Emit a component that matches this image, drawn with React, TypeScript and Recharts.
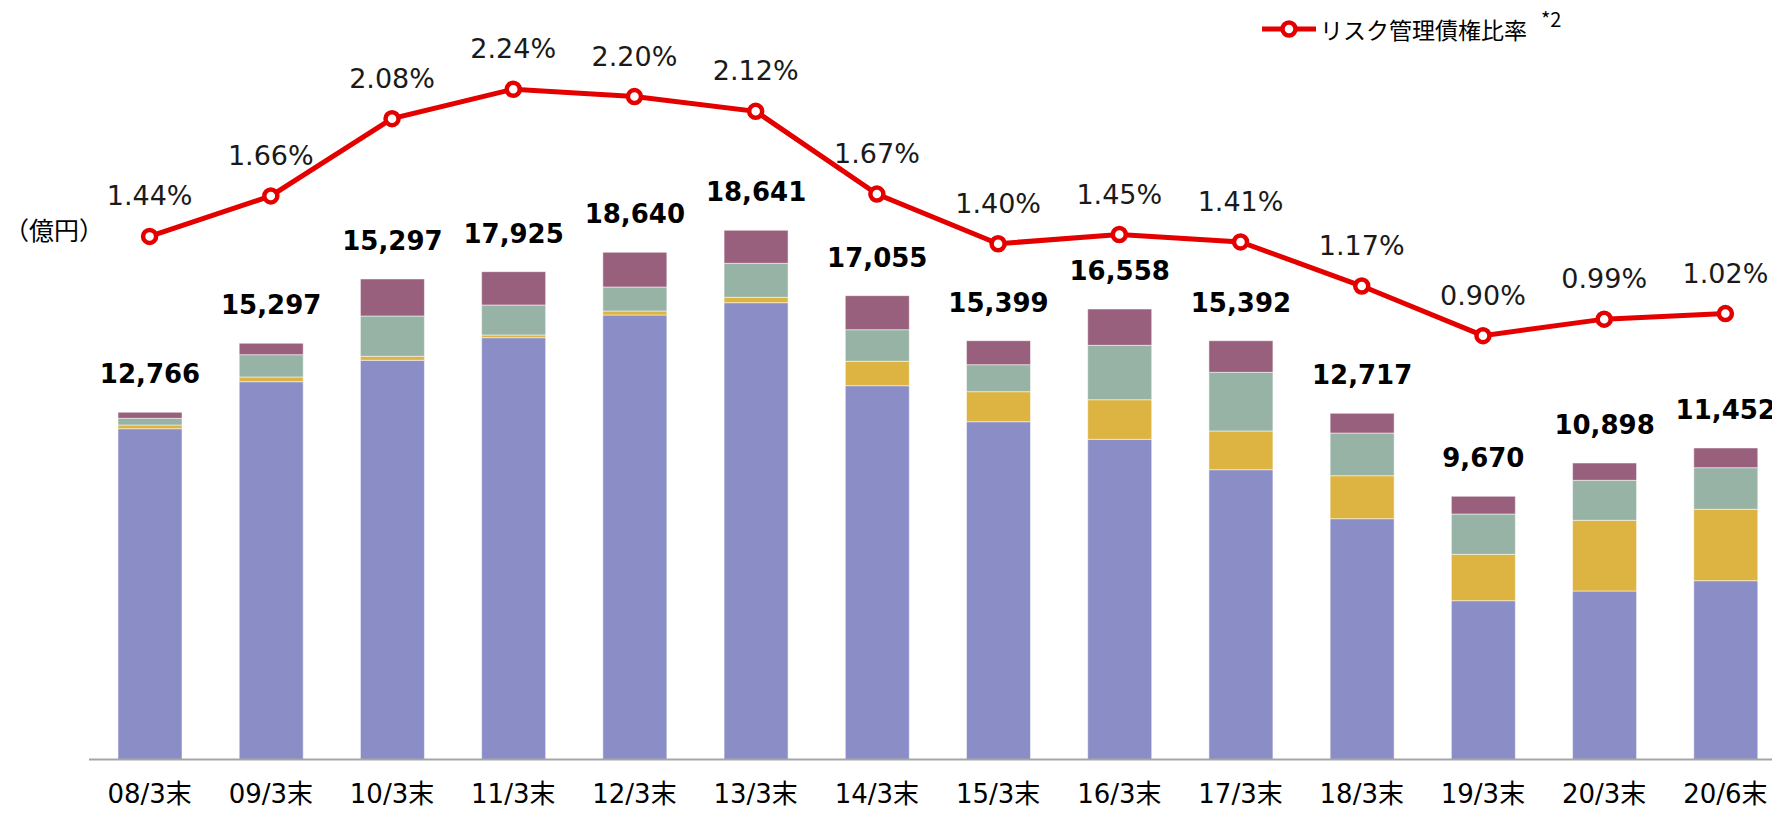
import React from 'react';
import { ComposedChart, Bar, Line, XAxis, YAxis, LabelList } from 'recharts';

// 期末（億円）
const periods = ['08/3末', '09/3末', '10/3末', '11/3末', '12/3末', '13/3末', '14/3末', '15/3末', '16/3末', '17/3末', '18/3末', '19/3末', '20/3末', '20/6末'];

// 積み上げ内訳（下から順）
const seriesA = [12157, 13884, 14671, 15501, 16335, 16787, 13737, 12414, 11767, 10650, 8849, 5836, 6192, 6571];
const seriesB = [136, 173, 147, 99, 147, 198, 897, 1103, 1455, 1422, 1580, 1705, 2598, 2624];
const seriesC = [246, 820, 1481, 1103, 882, 1250, 1161, 992, 1999, 2157, 1569, 1481, 1470, 1529];
const seriesD = [221, 419, 1360, 1224, 1275, 1213, 1250, 882, 1334, 1161, 724, 650, 636, 724];

// 合計ラベル（資料の表記どおり）
const totalLabels = [12766, 15297, 15297, 17925, 18640, 18641, 17055, 15399, 16558, 15392, 12717, 9670, 10898, 11452];

// リスク管理債権比率（%）
const riskRatio = [1.44, 1.66, 2.08, 2.24, 2.2, 2.12, 1.67, 1.4, 1.45, 1.41, 1.17, 0.9, 0.99, 1.02];

const COLORS = {
  a: '#8b8ec6',
  b: '#ddb441',
  c: '#97b3a5',
  d: '#98607c',
  line: '#e50000',
};

const NUM_FONT = '"DejaVu Sans", "Noto Sans CJK JP", sans-serif';
const JP_FONT = '"Noto Sans CJK JP", "DejaVu Sans", sans-serif';

const data = periods.map((p, i) => ({
  period: p,
  a: seriesA[i],
  b: seriesB[i],
  c: seriesC[i],
  d: seriesD[i],
  total: totalLabels[i],
  ratio: riskRatio[i],
}));

const AxisTick = (props: any) => {
  const { x, y, payload } = props;
  return (
    <text x={x} y={y + 35} textAnchor="middle" fontSize={26} fontFamily={NUM_FONT} fill="#000">
      {payload.value}
    </text>
  );
};

const TotalLabel = (props: any) => {
  const { x, y, width, index } = props;
  return (
    <text x={x + width / 2} y={y - 29} textAnchor="middle" fontSize={26} fontWeight="bold" fontFamily={NUM_FONT} fill="#000">
      {totalLabels[index].toLocaleString('en-US')}
    </text>
  );
};

const RatioLabel = (props: any) => {
  const { x, y, index } = props;
  return (
    <text x={x} y={y - 31} textAnchor="middle" fontSize={27} fontFamily={NUM_FONT} fill="#1a1a1a">
      {riskRatio[index].toFixed(2)}%
    </text>
  );
};

// 凡例（折れ線のみ）
const RatioLegend = () => (
  <div style={{ position: 'absolute', left: 1260, top: 12, display: 'flex', alignItems: 'center', fontFamily: JP_FONT, color: '#000' }}>
    <svg width={58} height={22}>
      <line x1={2} y1={11} x2={56} y2={11} stroke={COLORS.line} strokeWidth={5} />
      <circle cx={29} cy={11} r={6.5} fill="#fff" stroke={COLORS.line} strokeWidth={4.5} />
    </svg>
    <span style={{ fontSize: 23, marginLeft: 2 }}>リスク管理債権比率</span>
    <span style={{ fontSize: 20, marginLeft: 14, alignSelf: 'flex-start', marginTop: -8 }}>*2</span>
  </div>
);

export default function App() {
  return (
    <div style={{ margin: -8, width: 1780, height: 817, overflow: 'hidden', position: 'relative', background: '#fff' }}>
      <div style={{ position: 'absolute', left: 4, top: 211, fontSize: 25, fontFamily: JP_FONT, color: '#000', whiteSpace: 'nowrap' }}>
        （億円）
      </div>
      <RatioLegend />
      <ComposedChart width={1790} height={817} data={data} margin={{ top: 15, right: 4, bottom: 17.5, left: 89 }}>
        <XAxis
          dataKey="period"
          height={40}
          tickLine={false}
          axisLine={{ stroke: '#a6a6a6', strokeWidth: 2 }}
          tick={<AxisTick />}
          interval={0}
        />
        <YAxis yAxisId="amt" hide domain={[0, 27360]} allowDataOverflow />
        <YAxis yAxisId="pct" orientation="right" hide domain={[-1.4046, 2.6438]} allowDataOverflow />
        <Bar yAxisId="amt" dataKey="a" name="破綻更生等債権" stackId="s" fill={COLORS.a} barSize={64} stroke="#fff" strokeOpacity={0.5} isAnimationActive={false} />
        <Bar yAxisId="amt" dataKey="b" name="危険債権" stackId="s" fill={COLORS.b} barSize={64} stroke="#fff" strokeOpacity={0.5} isAnimationActive={false} />
        <Bar yAxisId="amt" dataKey="c" name="3ヵ月以上延滞債権" stackId="s" fill={COLORS.c} barSize={64} stroke="#fff" strokeOpacity={0.5} isAnimationActive={false} />
        <Bar yAxisId="amt" dataKey="d" name="貸出条件緩和債権" stackId="s" fill={COLORS.d} barSize={64} stroke="#fff" strokeOpacity={0.5} isAnimationActive={false}>
          <LabelList dataKey="total" content={<TotalLabel />} />
        </Bar>
        <Line
          yAxisId="pct"
          dataKey="ratio"
          name="リスク管理債権比率"
          stroke={COLORS.line}
          strokeWidth={5}
          dot={{ r: 6.5, fill: '#fff', stroke: COLORS.line, strokeWidth: 4.5 }}
          activeDot={false}
          isAnimationActive={false}
        >
          <LabelList dataKey="ratio" content={<RatioLabel />} />
        </Line>
      </ComposedChart>
    </div>
  );
}
